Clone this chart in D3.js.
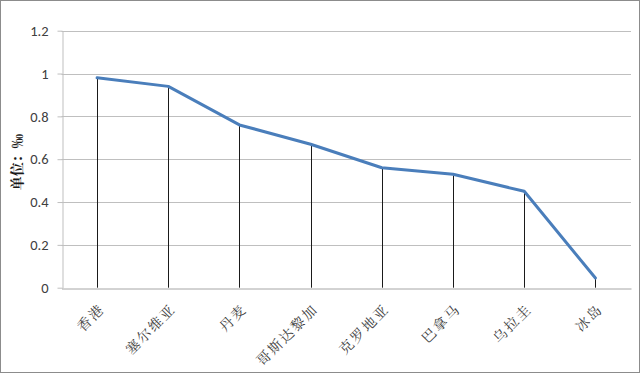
<!DOCTYPE html>
<html><head><meta charset="utf-8">
<script src="https://cdn.jsdelivr.net/npm/d3@7"></script>
<style>body{margin:0;background:#fff}svg{display:block}</style>
</head><body>
<svg id="c" width="641" height="375"></svg>
<script>
const categories = ["香港","塞尔维亚","丹麦","哥斯达黎加","克罗地亚","巴拿马","乌拉圭","冰岛"];
const values = [0.98, 0.94, 0.76, 0.67, 0.56, 0.53, 0.45, 0.045];
const yTicks = [0, 0.2, 0.4, 0.6, 0.8, 1, 1.2];
const yTitle = "单位：‰";

const svg = d3.select("#c");
const m = {left: 61.5, right: 631, top: 30.7, bottom: 287.7};

svg.append("rect").attr("x",0.5).attr("y",0.5).attr("width",639).attr("height",372)
  .attr("fill","#fff").attr("stroke","#8c8c8c").attr("stroke-width",1);

const x = d3.scaleBand().domain(categories).range([m.left, m.right]);
const y = d3.scaleLinear().domain([0,1.2]).range([m.bottom, m.top]);

// gridlines
svg.append("g").selectAll("line").data(yTicks.filter(d=>d>0)).join("line")
  .attr("x1",m.left).attr("x2",m.right)
  .attr("y1",d=>Math.round(y(d))+0.5).attr("y2",d=>Math.round(y(d))+0.5)
  .attr("stroke","#bfbfbf").attr("stroke-width",1);

// y axis
const ya = svg.append("g").attr("transform",`translate(${Math.round(m.left)+0.5},0)`)
  .call(d3.axisLeft(y).tickValues(yTicks).tickSize(5).tickSizeOuter(0).tickFormat(d=>d3.format("")(d)));
ya.select(".domain").attr("stroke","#bfbfbf");
ya.selectAll(".tick line").attr("stroke","#bfbfbf");
ya.selectAll(".tick text").attr("font-family","Carlito, 'Open Sans', 'Liberation Sans', sans-serif")
  .attr("font-size",14.5).attr("fill","#404040").attr("x",-14);

// x axis
const xa = svg.append("g").attr("transform",`translate(0,${Math.round(m.bottom)+0.5})`)
  .call(d3.axisBottom(x).tickSize(0).tickSizeOuter(0));
xa.select(".domain").attr("stroke","#a6a6a6");
xa.selectAll(".tick text")
  .attr("font-family","'Noto Serif CJK SC','Noto Sans CJK SC',serif")
  .attr("font-size",14).attr("fill","#404040")
  .attr("letter-spacing","2px")
  .attr("text-anchor","end")
  .attr("transform","translate(5,18) rotate(-45)")
  .attr("dy","0.35em").attr("y",0).attr("x",0);

// drop lines
const cx = d => x(d) + x.bandwidth()/2;
svg.append("g").selectAll("line").data(categories).join("line")
  .attr("x1",d=>Math.round(cx(d))+0.5).attr("x2",d=>Math.round(cx(d))+0.5)
  .attr("y1",(d,i)=>y(values[i])).attr("y2",m.bottom)
  .attr("stroke","#1a1a1a").attr("stroke-width",1);

// line
const line = d3.line().x((d,i)=>cx(categories[i])).y(d=>y(d));
svg.append("path").datum(values).attr("d",line)
  .attr("fill","none").attr("stroke","#4a7ebb").attr("stroke-width",3)
  .attr("stroke-linejoin","round").attr("stroke-linecap","round");

// y title
svg.append("text").attr("transform",`translate(22,${(m.top+m.bottom)/2+3}) rotate(-90)`)
  .attr("text-anchor","middle")
  .attr("font-family","'Noto Serif CJK SC','Noto Sans CJK SC',serif")
  .attr("font-weight","bold").attr("font-size",14).attr("fill","#1a1a1a")
  .text(yTitle);
</script>
</body></html>
